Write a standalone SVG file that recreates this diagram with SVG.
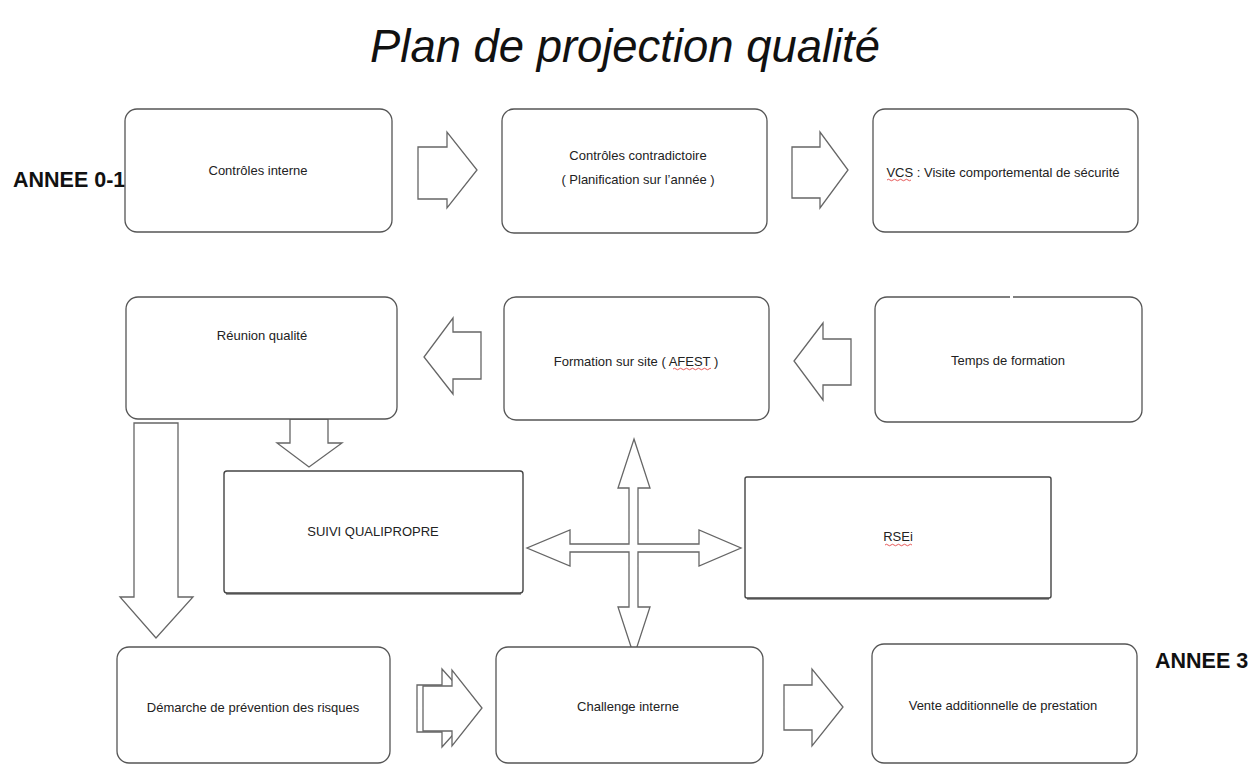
<svg xmlns="http://www.w3.org/2000/svg" width="1250" height="764" viewBox="0 0 1250 764">
<style>
.box{fill:#fff;stroke:#555;stroke-width:1.3}
.sq{fill:#fff;stroke:#444;stroke-width:1.4}
.arr{fill:#fff;stroke:#666;stroke-width:1.3;stroke-linejoin:miter}
.t{font-family:"Liberation Sans",Arial,sans-serif;font-size:13px;fill:#222;text-anchor:middle}
.yr{font-family:"Liberation Sans",Arial,sans-serif;font-size:21.5px;font-weight:bold;fill:#111}
.title{font-family:"Liberation Sans",Arial,sans-serif;font-size:46px;font-style:italic;fill:#111;text-anchor:middle}
.sp{fill:none;stroke:#e03030;stroke-width:0.8}
</style>
<rect width="1250" height="764" fill="#fff"/>
<text class="title" x="625" y="62" textLength="510" lengthAdjust="spacingAndGlyphs">Plan de projection qualité</text>
<g id="connectors">
<polygon class="arr" points="418,147 447,147 447,132 477,170 447,208 447,199 418,199"/>
<polygon class="arr" points="792,147 820,147 820,132 848,170 820,208 820,198 792,198"/>
<polygon class="arr" points="481,332 453,332 453,318 424,357 453,394 453,379 481,379"/>
<polygon class="arr" points="851,339 823,339 823,323 794,361 823,400 823,385 851,385"/>
<polygon class="arr" points="290,419 328,419 328,443 342,443 309,467 277,443 290,443"/>
<polygon class="arr" points="134,423 178,423 178,597 193,597 156,638 120,597 134,597"/>
<polygon class="arr" points="634,439 650,488 638,488 638,544 699,544 699,530 741,548 699,566 699,552 638,552 638,607 650,607 634,656 618,607 629,607 629,552 570,552 570,566 527,548 570,530 570,544 629,544 629,488 618,488"/>
<polygon class="arr" points="417,685 442,685 442,669 477,708 442,747 442,732 417,732"/>
<polygon class="arr" points="423,686 452,686 452,670 482,708 452,746 452,731 423,731"/>
<polygon class="arr" points="784,685 812,685 812,669 843,707 812,746 812,730 784,730"/>
</g>
<g id="label-annee01"><text class="yr" x="13" y="187">ANNEE 0-1</text></g>
<g id="label-annee3"><text class="yr" x="1155" y="668">ANNEE 3</text></g>
<g id="n1"><rect class="box" x="125" y="109" width="267" height="123" rx="12"/><text class="t" x="258" y="175">Contrôles interne</text></g>
<g id="n2"><rect class="box" x="502" y="109" width="265" height="124" rx="12"/><text class="t" x="638" y="160">Contrôles contradictoire</text><text class="t" x="638" y="184">( Planification sur l’année )</text></g>
<g id="n3"><rect class="box" x="873" y="109" width="265" height="123" rx="12"/><text class="t" x="1003" y="177">VCS : Visite comportemental de sécurité</text><path class="sp" d="M887,180 q1.5,-1.5 3,0 t3,0 t3,0 t3,0 t3,0 t3,0 t3,0 t3,0"/></g>
<g id="n4"><rect class="box" x="126" y="297" width="271" height="122" rx="12"/><text class="t" x="262" y="340">Réunion qualité</text></g>
<g id="n5"><rect class="box" x="504" y="297" width="265" height="123" rx="12"/><text class="t" x="636" y="366">Formation sur site ( AFEST )</text><path class="sp" d="M673,369 q1.5,-1.5 3,0 t3,0 t3,0 t3,0 t3,0 t3,0 t3,0 t3,0 t3,0 t3,0 t3,0 t3,0 t2,0"/></g>
<g id="n6"><rect class="box" x="875" y="297" width="267" height="125" rx="12"/><rect x="1010" y="295" width="3" height="4" fill="#fff"/><text class="t" x="1008" y="365">Temps de formation</text></g>
<g id="n7"><rect class="sq" x="224" y="471" width="299" height="122" rx="3"/><line x1="226" y1="594" x2="521" y2="594" stroke="#333" stroke-width="1"/><text class="t" x="373" y="536">SUIVI QUALIPROPRE</text></g>
<g id="n8"><rect class="sq" x="745" y="477" width="306" height="121" rx="2"/><line x1="747" y1="599" x2="1049" y2="599" stroke="#333" stroke-width="1"/><text class="t" x="898" y="541">RSEi</text><path class="sp" d="M885,545 q1.5,-1.5 3,0 t3,0 t3,0 t3,0 t3,0 t3,0 t3,0 t3,0 t3,0"/></g>
<g id="n9"><rect class="box" x="117" y="647" width="273" height="116" rx="12"/><text class="t" x="253" y="712">Démarche de prévention des risques</text></g>
<g id="n10"><rect class="box" x="496" y="647" width="267" height="116" rx="12"/><text class="t" x="628" y="711">Challenge interne</text></g>
<g id="n11"><rect class="box" x="872" y="644" width="265" height="119" rx="12"/><text class="t" x="1003" y="710">Vente additionnelle de prestation</text></g>
</svg>
